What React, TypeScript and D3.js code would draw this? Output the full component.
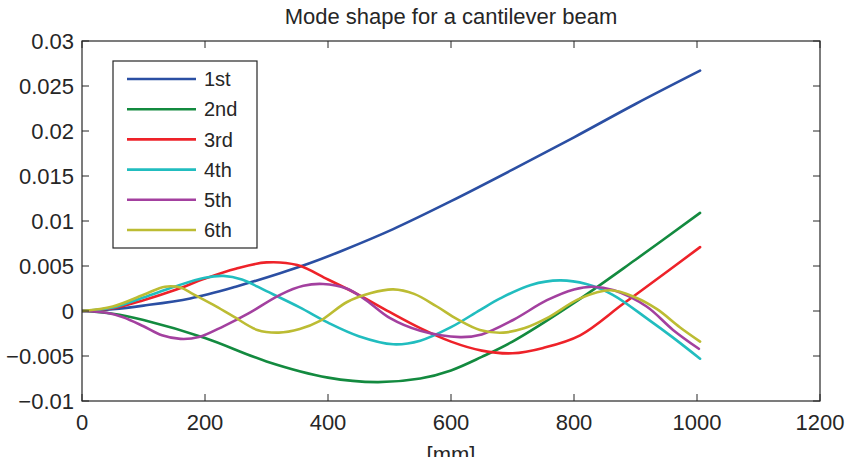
import React from "react";
import * as d3 from "d3";

const title = "Mode shape for a cantilever beam";
const xLabel = "[mm]";
const seriesNames = ["1st", "2nd", "3rd", "4th", "5th", "6th"];
const seriesColors = ["#2b4fa3", "#138a3f", "#ee2229", "#21bdbf", "#a3409f", "#bcbc33"];

const xTicks = [0, 200, 400, 600, 800, 1000, 1200];
const xTickLabels = ["0", "200", "400", "600", "800", "1000", "1200"];
const yTicks = [-0.01, -0.005, 0, 0.005, 0.01, 0.015, 0.02, 0.025, 0.03];
const yTickLabels = ["\u22120.01", "\u22120.005", "0", "0.005", "0.01", "0.015", "0.02", "0.025", "0.03"];

const mode1: [number, number][] = [
  [0, 0], [50, 0.0002], [100, 0.0006], [176, 0.0014], [250, 0.0027], [322, 0.0042], [370, 0.0053],
  [423, 0.0067], [506, 0.0091], [600, 0.0122], [700, 0.0157], [800, 0.0193],
  [900, 0.023], [1005, 0.0267],
];
const mode2: [number, number][] = [
  [0, 0], [50, -0.0003], [100, -0.001], [200, -0.003], [300, -0.0056], [400, -0.0074], [480, -0.0079],
  [550, -0.0075], [600, -0.0066], [650, -0.0051], [700, -0.0034], [800, 0.0009],
  [900, 0.0057], [1005, 0.0109],
];
const mode3: [number, number][] = [
  [0, 0], [50, 0.0003], [100, 0.0012], [150, 0.0023], [200, 0.0036], [250, 0.0047], [300, 0.0054],
  [350, 0.0051], [400, 0.0035], [450, 0.0018], [500, -0.0001], [550, -0.0019], [600, -0.0034],
  [650, -0.0044], [700, -0.0047], [750, -0.0041], [810, -0.0027], [880, 0.0008], [950, 0.0043],
  [1005, 0.0071],
];
const mode4: [number, number][] = [
  [0, 0], [50, 0.0004], [100, 0.0015], [150, 0.0027], [200, 0.0037], [230, 0.0039], [260, 0.0035],
  [300, 0.0022], [354, 0.0004], [400, -0.0013], [450, -0.0028], [506, -0.0037], [550, -0.0033],
  [600, -0.0018], [647, 0.0001], [680, 0.0014], [730, 0.0029], [777, 0.0034], [820, 0.003],
  [863, 0.0018], [920, -0.0009], [960, -0.0029], [1005, -0.0053],
];
const mode5: [number, number][] = [
  [0, 0], [40, -0.0002], [67, -0.0007], [100, -0.0017], [130, -0.0027], [160, -0.0031], [190, -0.0029],
  [230, -0.0017], [270, -0.0003], [322, 0.0018], [360, 0.0028], [392, 0.003], [430, 0.0025],
  [460, 0.0013], [501, -0.0008], [550, -0.0022], [615, -0.0029], [650, -0.0026], [701, -0.001],
  [756, 0.0012], [800, 0.0024], [830, 0.0027], [865, 0.0023], [918, 0.0005], [961, -0.0021],
  [1003, -0.0042],
];
const mode6: [number, number][] = [
  [0, 0], [50, 0.0005], [100, 0.0018], [135, 0.0027], [160, 0.0026], [180, 0.0019], [213, 0.0007],
  [246, -0.0006], [285, -0.0021], [320, -0.0024], [354, -0.002], [387, -0.0011], [431, 0.001],
  [470, 0.002], [506, 0.0024], [540, 0.0019], [577, 0.0005], [610, -0.0009], [647, -0.0021],
  [685, -0.0024], [720, -0.0019], [756, -0.0008], [810, 0.0014], [859, 0.0023], [900, 0.0015],
  [935, 0.0002], [972, -0.0018], [1005, -0.0034],
];
const allModes = [mode1, mode2, mode3, mode4, mode5, mode6];

const W = 847;
const H = 457;
const M = { left: 82, top: 41, right: 820, bottom: 401 };
const FONT = "'Liberation Sans', Arial, Helvetica, sans-serif";
const AX = "#262626";

export default function App() {
  const x = d3.scaleLinear().domain([0, 1200]).range([M.left, M.right]);
  const y = d3.scaleLinear().domain([-0.01, 0.03]).range([M.bottom, M.top]);
  const line = d3
    .line<[number, number]>()
    .x((d) => x(d[0]))
    .y((d) => y(d[1]))
    .curve(d3.curveCatmullRom.alpha(0.5));
  const tickLen = 7;
  const legend = { x: 113, y: 61, w: 144, h: 187, row: 30.2, first: 79 };

  return (
    <svg width={W} height={H} style={{ position: "absolute", left: 0, top: 0, display: "block" }}>
      <rect x={0} y={0} width={W} height={H} fill="#fff" />
      <text x={(M.left + M.right) / 2} y={24} textAnchor="middle" fontFamily={FONT} fontSize={22} fill={AX}>
        {title}
      </text>
      <defs>
        <clipPath id="plotClip">
          <rect x={M.left} y={M.top} width={M.right - M.left} height={M.bottom - M.top} />
        </clipPath>
      </defs>
      <g clipPath="url(#plotClip)">
        {allModes.map((m, i) => (
          <path key={i} d={line(m) || ""} fill="none" stroke={seriesColors[i]} strokeWidth={2.6} strokeLinejoin="round" strokeLinecap="round" />
        ))}
      </g>
      <rect x={M.left} y={M.top} width={M.right - M.left} height={M.bottom - M.top} fill="none" stroke={AX} strokeWidth={1.2} />
      {xTicks.map((t, i) => (
        <g key={"xt" + i}>
          <line x1={x(t)} x2={x(t)} y1={M.bottom} y2={M.bottom - tickLen} stroke={AX} strokeWidth={1} />
          <line x1={x(t)} x2={x(t)} y1={M.top} y2={M.top + tickLen} stroke={AX} strokeWidth={1} />
          <text x={x(t)} y={430} textAnchor="middle" fontFamily={FONT} fontSize={22} fill={AX}>
            {xTickLabels[i]}
          </text>
        </g>
      ))}
      {yTicks.map((t, i) => (
        <g key={"yt" + i}>
          <line x1={M.left} x2={M.left + tickLen} y1={y(t)} y2={y(t)} stroke={AX} strokeWidth={1} />
          <line x1={M.right} x2={M.right - tickLen} y1={y(t)} y2={y(t)} stroke={AX} strokeWidth={1} />
          <text x={74} y={y(t)} dy="0.36em" textAnchor="end" fontFamily={FONT} fontSize={22} fill={AX}>
            {yTickLabels[i]}
          </text>
        </g>
      ))}
      <text x={(M.left + M.right) / 2} y={462} textAnchor="middle" fontFamily={FONT} fontSize={22} fill={AX}>
        {xLabel}
      </text>
      <g>
        <rect x={legend.x} y={legend.y} width={legend.w} height={legend.h} fill="#fff" stroke={AX} strokeWidth={1.2} />
        {seriesNames.map((n, i) => {
          const ly = legend.first + i * legend.row;
          return (
            <g key={"lg" + i}>
              <line x1={127} x2={196} y1={ly} y2={ly} stroke={seriesColors[i]} strokeWidth={2.6} />
              <text x={204} y={ly} dy="0.36em" fontFamily={FONT} fontSize={20} fill={AX}>
                {n}
              </text>
            </g>
          );
        })}
      </g>
    </svg>
  );
}
